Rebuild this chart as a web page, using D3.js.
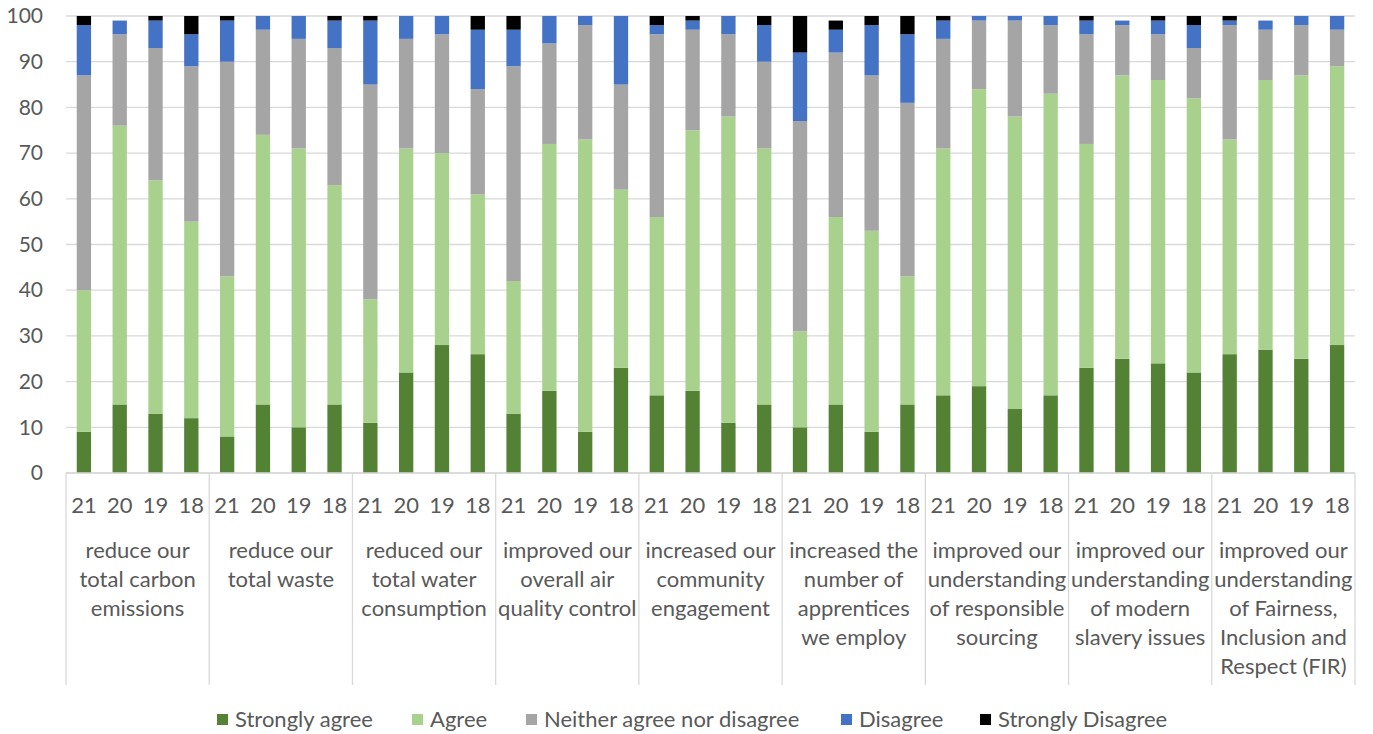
<!DOCTYPE html>
<html>
<head>
<meta charset="utf-8">
<script src="https://cdn.jsdelivr.net/npm/d3@7"></script>
<style>
  html, body { margin: 0; padding: 0; background: #fff; }
  svg text { font-family: Lato, "Liberation Sans", sans-serif; fill: #595959; }
</style>
</head>
<body>
<svg id="chart" width="1373" height="734"></svg>
<script>
// Survey response shares (%) per statement, one bar per year (21, 20, 19, 18)
const categories = [
  ["reduce our", "total carbon", "emissions"],
  ["reduce our", "total waste"],
  ["reduced our", "total water", "consumption"],
  ["improved our", "overall air", "quality control"],
  ["increased our", "community", "engagement"],
  ["increased the", "number of", "apprentices", "we employ"],
  ["improved our", "understanding", "of responsible", "sourcing"],
  ["improved our", "understanding", "of modern", "slavery issues"],
  ["improved our", "understanding", "of Fairness,", "Inclusion and", "Respect (FIR)"]
];
const years = ["21", "20", "19", "18"];
const seriesNames = ["Strongly agree", "Agree", "Neither agree nor disagree", "Disagree", "Strongly Disagree"];
const seriesColors = ["#548235", "#A9D18E", "#A5A5A5", "#4472C4", "#000000"];
const yTicks = [0, 10, 20, 30, 40, 50, 60, 70, 80, 90, 100];

// values listed category by category, years 21, 20, 19, 18
const stronglyAgree = [9, 15, 13, 12,  8, 15, 10, 15,  11, 22, 28, 26,  13, 18, 9, 23,  17, 18, 11, 15,  10, 15, 9, 15,  17, 19, 14, 17,  23, 25, 24, 22,  26, 27, 25, 28];
const agree         = [31, 61, 51, 43,  35, 59, 61, 48,  27, 49, 42, 35,  29, 54, 64, 39,  39, 57, 67, 56,  21, 41, 44, 28,  54, 65, 64, 66,  49, 62, 62, 60,  47, 59, 62, 61];
const neither       = [47, 20, 29, 34,  47, 23, 24, 30,  47, 24, 26, 23,  47, 22, 25, 23,  40, 22, 18, 19,  46, 36, 34, 38,  24, 15, 21, 15,  24, 11, 10, 11,  25, 11, 11, 8];
const disagree      = [11, 3, 6, 7,  9, 3, 5, 6,  14, 5, 4, 13,  8, 6, 2, 15,  2, 2, 4, 8,  15, 5, 11, 15,  4, 1, 1, 2,  3, 1, 3, 5,  1, 2, 2, 3];
const stronglyDis   = [2, 0, 1, 4,  1, 0, 0, 1,  1, 0, 0, 3,  3, 0, 0, 0,  2, 1, 0, 2,  8, 2, 2, 4,  1, 0, 0, 0,  1, 0, 1, 2,  1, 0, 0, 0];

const seriesValues = [stronglyAgree, agree, neither, disagree, stronglyDis];

const rows = [];
categories.forEach((c, ci) => {
  years.forEach((yr, yi) => {
    const i = ci * years.length + yi;
    const row = { key: ci + "-" + yr, cat: ci, year: yr };
    seriesNames.forEach((s, si) => { row[s] = seriesValues[si][i]; });
    rows.push(row);
  });
});

const svg = d3.select("#chart");
const plot = { left: 66, right: 1355, top: 16, bottom: 473 };

const x = d3.scaleBand()
  .domain(rows.map(d => d.key))
  .range([plot.left, plot.right])
  .paddingInner(0.6)
  .paddingOuter(0.3);

const y = d3.scaleLinear().domain([0, 100]).range([plot.bottom, plot.top]);

// horizontal gridlines
svg.append("g")
  .selectAll("line")
  .data(yTicks)
  .join("line")
  .attr("x1", plot.left).attr("x2", plot.right)
  .attr("y1", d => y(d)).attr("y2", d => y(d))
  .attr("stroke", "#D9D9D9").attr("stroke-width", 1.3);

// y axis labels
const yAxis = d3.axisLeft(y).tickValues(yTicks).tickSize(0).tickPadding(0);
svg.append("g")
  .attr("transform", `translate(${plot.left - 23},0)`)
  .call(yAxis)
  .call(g => g.select(".domain").remove())
  .selectAll("text")
  .attr("font-size", 21)
  .style("font-family", "Lato, 'Liberation Sans', sans-serif")
  .attr("fill", "#595959");

// stacked bars
const stack = d3.stack().keys(seriesNames);
const layers = stack(rows);

svg.append("g")
  .selectAll("g")
  .data(layers)
  .join("g")
  .attr("fill", (d, i) => seriesColors[i])
  .selectAll("rect")
  .data(d => d)
  .join("rect")
  .attr("x", d => x(d.data.key))
  .attr("width", x.bandwidth())
  .attr("y", d => y(d[1]))
  .attr("height", d => Math.max(0, y(d[0]) - y(d[1])));

// category axis: baseline and group separators
const groupW = (plot.right - plot.left) / categories.length;
const axisG = svg.append("g");
axisG.append("line")
  .attr("x1", plot.left).attr("x2", plot.right)
  .attr("y1", plot.bottom).attr("y2", plot.bottom)
  .attr("stroke", "#D9D9D9").attr("stroke-width", 1.3);
axisG.selectAll("line.sep")
  .data(d3.range(categories.length + 1))
  .join("line")
  .attr("class", "sep")
  .attr("x1", i => plot.left + i * groupW).attr("x2", i => plot.left + i * groupW)
  .attr("y1", plot.bottom).attr("y2", 685)
  .attr("stroke", "#D9D9D9").attr("stroke-width", 1.3);

// year labels under each bar
axisG.selectAll("text.year")
  .data(rows)
  .join("text")
  .attr("class", "year")
  .attr("x", d => x(d.key) + x.bandwidth() / 2)
  .attr("y", 513)
  .attr("text-anchor", "middle")
  .attr("font-size", 22)
  .text(d => d.year);

// statement labels, one text block per group
const catG = axisG.selectAll("text.cat")
  .data(categories)
  .join("text")
  .attr("class", "cat")
  .attr("text-anchor", "middle")
  .attr("font-size", 22);
catG.selectAll("tspan")
  .data((d, i) => d.map(line => ({ line, i })))
  .join("tspan")
  .attr("x", d => plot.left + (d.i + 0.5) * groupW)
  .attr("y", (d, j) => 558 + j * 29)
  .text(d => d.line);

// legend
const legendX = [217, 412, 526, 841, 980];
const lg = svg.append("g").selectAll("g")
  .data(seriesNames)
  .join("g")
  .attr("transform", (d, i) => `translate(${legendX[i]},714)`);
lg.append("rect").attr("width", 11).attr("height", 11).attr("fill", (d, i) => seriesColors[i]);
lg.append("text").attr("x", 18).attr("y", 13).attr("font-size", 22).text(d => d);
</script>
</body>
</html>
